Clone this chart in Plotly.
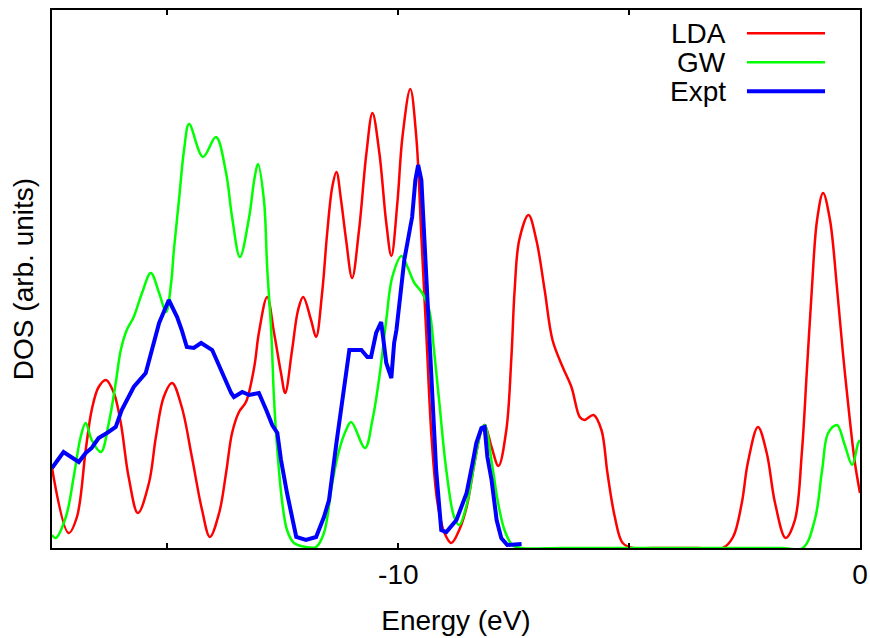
import plotly.graph_objects as go

# ---------------- data ----------------
lda_energy = [-17.5, -17.14, -16.96, -16.77, -16.64, -16.49, -16.33, -16.16, -16.01, -15.84,
              -15.64, -15.40, -15.25, -15.08, -14.90, -14.69, -14.47, -14.25, -14.08, -13.88,
              -13.73, -13.60, -13.45, -13.30, -13.12, -13.02, -12.84, -12.69, -12.54, -12.45,
              -12.30, -12.17, -12.06, -11.89, -11.78, -11.65, -11.54, -11.43, -11.34, -11.24,
              -11.13, -11.00, -10.85, -10.69, -10.56, -10.41, -10.26, -10.15, -10.02, -9.91,
              -9.74, -9.61, -9.50, -9.39, -9.28, -9.15, -9.00, -8.85, -8.68, -8.52,
              -8.35, -8.20, -8.13, -7.98, -7.83, -7.66, -7.55, -7.48, -7.38, -7.18,
              -7.01, -6.83, -6.66, -6.44, -6.25, -6.07, -5.97, -5.77, -5.60, -5.47,
              -5.31, -5.14, -4.92, -4.5, -4.0, -3.5, -2.97, -2.75, -2.56, -2.43, -2.21, -2.02,
              -1.84, -1.61, -1.41, -1.26, -1.15, -1.04, -0.93, -0.80, -0.65, -0.50,
              -0.37, -0.22, -0.11, 0.0]
lda_dos = [0.80, 0.15, 0.31, 0.98, 1.38, 1.61, 1.68, 1.55, 1.25, 0.71,
           0.35, 0.65, 1.11, 1.51, 1.65, 1.41, 0.91, 0.38, 0.11, 0.35,
           0.75, 1.15, 1.36, 1.46, 1.81, 2.15, 2.51, 2.15, 1.75, 1.55,
           1.98, 2.38, 2.51, 2.28, 2.11, 2.55, 3.15, 3.61, 3.76, 3.48,
           3.08, 2.70, 3.18, 3.95, 4.35, 3.95, 3.25, 2.92, 3.45, 4.11,
           4.59, 4.11, 3.11, 2.11, 1.11, 0.45, 0.15, 0.05, 0.18, 0.41,
           0.85, 1.18, 1.23, 1.01, 0.82, 1.18, 1.91, 2.58, 3.08, 3.33,
           3.08, 2.58, 2.08, 1.81, 1.61, 1.31, 1.28, 1.33, 1.18, 0.75,
           0.31, 0.05, 0.0, 0.0, 0.0, 0.0, 0.0, 0.11, 0.45, 0.85, 1.21, 0.95,
           0.45, 0.10, 0.28, 0.95, 1.78, 2.61, 3.28, 3.55, 3.28, 2.61,
           1.95, 1.28, 0.85, 0.55]

gw_energy = [-17.5, -17.42, -17.20, -17.03, -16.88, -16.77, -16.64, -16.44, -16.27, -16.12,
             -16.01, -15.88, -15.73, -15.55, -15.36, -15.18, -15.03, -14.92, -14.86, -14.75,
             -14.64, -14.53, -14.23, -13.95, -13.73, -13.60, -13.43, -13.23, -13.12, -13.04,
             -12.91, -12.84, -12.75, -12.69, -12.62, -12.52, -12.41, -12.26, -12.00, -11.78,
             -11.61, -11.43, -11.28, -11.13, -11.02, -10.72, -10.56, -10.41, -10.26, -10.13,
             -9.93, -9.80, -9.65, -9.48, -9.33, -9.22, -9.11, -8.96, -8.79, -8.68,
             -8.52, -8.35, -8.20, -8.13, -7.96, -7.85, -7.70, -7.53, -7.33, -6.5,
             -5.5, -4.5, -3.5, -2.5, -1.7, -1.24, -0.98, -0.82, -0.69, -0.50,
             -0.33, -0.17, -0.04, 0.0]
gw_dos = [0.13, 0.10, 0.31, 0.71, 1.11, 1.25, 1.08, 0.96, 1.25, 1.65,
          1.98, 2.18, 2.31, 2.55, 2.75, 2.55, 2.36, 2.65, 2.98, 3.48,
          3.98, 4.24, 3.91, 4.11, 3.75, 3.31, 2.91, 3.31, 3.68, 3.84,
          3.48, 2.81, 2.15, 1.48, 0.98, 0.48, 0.18, 0.05, 0.01, 0.01,
          0.15, 0.65, 0.98, 1.18, 1.26, 1.00, 1.28, 1.71, 2.28, 2.71,
          2.92, 2.81, 2.65, 2.55, 2.38, 1.95, 1.45, 0.78, 0.31, 0.23,
          0.43, 0.85, 1.18, 1.23, 0.81, 0.48, 0.18, 0.03, 0.0, 0.0,
          0.0, 0.0, 0.0, 0.0, 0.0, 0.0, 0.28, 0.78, 1.15, 1.23,
          1.03, 0.83, 1.05, 1.08]

expt_energy = [-17.5, -17.25, -16.92, -16.77, -16.64, -16.49, -16.31, -16.12, -15.99, -15.73,
               -15.47, -15.34, -15.18, -14.97, -14.79, -14.69, -14.58, -14.43, -14.27, -14.03,
               -13.82, -13.62, -13.56, -13.38, -13.23, -13.02, -12.86, -12.73, -12.62, -12.54,
               -12.41, -12.30, -12.21, -12.00, -11.78, -11.61, -11.50, -11.34, -11.21, -11.06,
               -10.80, -10.67, -10.59, -10.48, -10.37, -10.26, -10.15, -10.09, -10.04, -9.98,
               -9.87, -9.74, -9.70, -9.63, -9.57, -9.50, -9.44, -9.37, -9.26, -9.18,
               -9.07, -8.96, -8.74, -8.52, -8.39, -8.31, -8.20, -8.13, -8.07, -7.98,
               -7.87, -7.77, -7.64, -7.33]
expt_dos = [0.80, 0.96, 0.86, 0.95, 1.00, 1.10, 1.15, 1.21, 1.38, 1.61,
            1.75, 1.98, 2.25, 2.48, 2.31, 2.18, 2.01, 2.00, 2.05, 1.98,
            1.75, 1.55, 1.51, 1.56, 1.53, 1.55, 1.38, 1.23, 1.15, 0.88,
            0.55, 0.28, 0.11, 0.08, 0.11, 0.31, 0.48, 1.05, 1.48, 1.98,
            1.98, 1.91, 1.91, 2.15, 2.26, 1.85, 1.70, 2.05, 2.18, 2.45,
            2.88, 3.21, 3.31, 3.68, 3.83, 3.68, 3.11, 2.45, 1.45, 0.78,
            0.18, 0.16, 0.28, 0.55, 0.85, 1.05, 1.20, 1.21, 0.91, 0.68,
            0.28, 0.10, 0.03, 0.04]

x_tick_values = [-15, -10, -5, 0]
x_tick_labels = ["", "-10", "", "0"]
series_names = ["LDA", "GW", "Expt"]
series_colors = ["#ff0000", "#00ff00", "#0000ff"]
series_widths = [2.5, 2.5, 4]

FONT = "Liberation Sans, Arial, Helvetica, sans-serif"

fig = go.Figure()
fig.add_trace(go.Scatter(x=lda_energy, y=lda_dos, mode="lines", name=series_names[0],
                         line=dict(color=series_colors[0], width=series_widths[0],
                                   shape="spline", smoothing=1.0)))
fig.add_trace(go.Scatter(x=gw_energy, y=gw_dos, mode="lines", name=series_names[1],
                         line=dict(color=series_colors[1], width=series_widths[1],
                                   shape="spline", smoothing=1.0)))
fig.add_trace(go.Scatter(x=expt_energy, y=expt_dos, mode="lines", name=series_names[2],
                         line=dict(color=series_colors[2], width=series_widths[2],
                                   shape="linear")))

# custom legend: text on the left, line sample on the right
legend_y = [0.957, 0.903, 0.849]
for name, col, w, yy in zip(series_names, series_colors, series_widths, legend_y):
    fig.add_annotation(x=0.8366, y=yy, xref="paper", yref="paper", text=name,
                       showarrow=False, xanchor="right", yanchor="middle",
                       font=dict(family=FONT, size=28, color="black"))
    fig.add_shape(type="line", xref="paper", yref="paper", x0=0.8601, x1=0.9567,
                  y0=yy, y1=yy, line=dict(color=col, width=w))

fig.update_layout(
    width=870, height=638,
    margin=dict(l=52, r=10, t=10, b=90, autoexpand=False),
    paper_bgcolor="white", plot_bgcolor="white",
    showlegend=False,
    font=dict(family=FONT, size=28, color="black"),
)
fig.update_xaxes(
    range=[-17.5, 0], tickvals=x_tick_values, ticktext=x_tick_labels,
    ticks="inside", ticklen=5, tickwidth=2, tickcolor="black",
    showline=True, linewidth=2, linecolor="black", mirror="ticks",
    showgrid=False, zeroline=False, automargin=False,
    title=dict(text="Energy (eV)", font=dict(family=FONT, size=28), standoff=22),
    tickfont=dict(family=FONT, size=28),
)
fig.update_yaxes(
    range=[0, 5.38], showticklabels=False, ticks="",
    showline=True, linewidth=2, linecolor="black", mirror=True,
    showgrid=False, zeroline=False, automargin=False,
    title=dict(text="DOS (arb. units)", font=dict(family=FONT, size=28), standoff=8),
)

fig.write_html("out.html")
